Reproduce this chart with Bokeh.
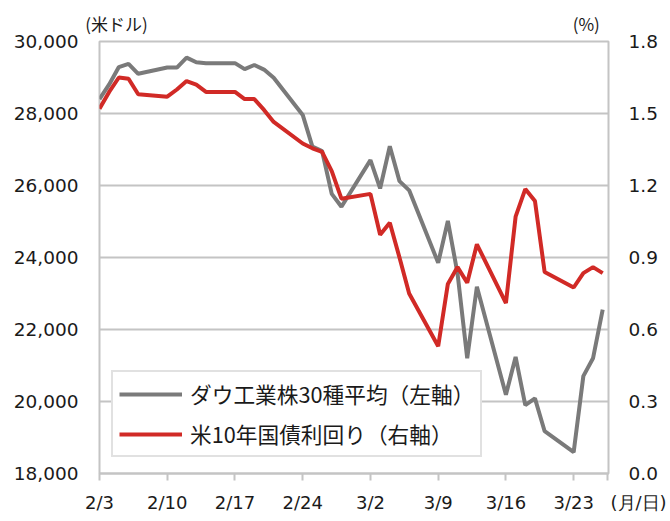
import pandas as pd
from bokeh.plotting import figure
from bokeh.models import (Range1d, LinearAxis, FixedTicker, NumeralTickFormatter,
                          Legend, LegendItem, ColumnDataSource)
from bokeh.embed import file_html
from bokeh.resources import INLINE

# ---- data ----
dates = ["2020-02-03", "2020-02-04", "2020-02-05", "2020-02-06", "2020-02-07",
         "2020-02-10", "2020-02-11", "2020-02-12", "2020-02-13", "2020-02-14",
         "2020-02-17", "2020-02-18", "2020-02-19", "2020-02-20", "2020-02-21",
         "2020-02-24", "2020-02-25", "2020-02-26", "2020-02-27", "2020-02-28",
         "2020-03-02", "2020-03-03", "2020-03-04", "2020-03-05", "2020-03-06",
         "2020-03-09", "2020-03-10", "2020-03-11", "2020-03-12", "2020-03-13",
         "2020-03-16", "2020-03-17", "2020-03-18", "2020-03-19", "2020-03-20",
         "2020-03-23", "2020-03-24", "2020-03-25", "2020-03-26"]
dow = [28399.81, 28807.63, 29290.85, 29379.77, 29102.51,
       29276.82, 29276.34, 29551.42, 29423.31, 29398.08,
       29398.08, 29232.19, 29348.03, 29219.98, 28992.41,
       27960.80, 27081.36, 26957.59, 25766.64, 25409.36,
       26703.32, 25917.41, 27090.86, 26121.28, 25864.78,
       23851.02, 25018.16, 23553.22, 21200.62, 23185.62,
       20188.52, 21237.38, 19898.92, 20087.19, 19173.98,
       18591.93, 20704.91, 21200.55, 22552.17]
yield10 = [1.52, 1.59, 1.65, 1.645, 1.58,
           1.57, 1.60, 1.635, 1.62, 1.59,
           1.59, 1.56, 1.56, 1.515, 1.465,
           1.375, 1.355, 1.34, 1.26, 1.145,
           1.165, 0.995, 1.045, 0.90, 0.75,
           0.53, 0.79, 0.86, 0.795, 0.955,
           0.71, 1.07, 1.185, 1.135, 0.84,
           0.775, 0.835, 0.86, 0.835]
tick_dates = ["2020-02-03", "2020-02-10", "2020-02-17", "2020-02-24",
              "2020-03-02", "2020-03-09", "2020-03-16", "2020-03-23"]
tick_labels = ["2/3", "2/10", "2/17", "2/24", "3/2", "3/9", "3/16", "3/23"]
left_ticks = [18000, 20000, 22000, 24000, 26000, 28000, 30000]
right_ticks = [0.0, 0.3, 0.6, 0.9, 1.2, 1.5, 1.8]
series_names = ["ダウ工業株30種平均（左軸）", "米10年国債利回り（右軸）"]
unit_left, unit_right, unit_x = "(米ドル)", "(%)", "(月/日)"

origin = pd.Timestamp(dates[0])
xdays = [(pd.Timestamp(d) - origin).days for d in dates]
xticks = [(pd.Timestamp(d) - origin).days for d in tick_dates]

src = ColumnDataSource(dict(x=xdays, dow=dow, y10=yield10))

TICK_FONT = "DejaVu Sans"
CJK = "Noto Sans CJK JP"
GRID = "#c4c4c4"
TXT = "#1a1a1a"

W, H = 668, 520
XEND = 52.6
p = figure(width=W, height=H, output_backend="svg", toolbar_location=None,
           x_range=Range1d(0, XEND), y_range=Range1d(18000, 30000),
           min_border_left=99, min_border_right=W - 608, min_border_top=41,
           min_border_bottom=H - 473)
p.extra_y_ranges = {"pct": Range1d(0.0, 1.8)}

p.outline_line_color = GRID
p.outline_line_width = 2
p.background_fill_color = "white"
p.border_fill_color = "white"

# x axis; the unit caption sits at the right end (pushed right by leading blank space)
ux = XEND - 0.15
xa = p.xaxis[0]
xa.ticker = FixedTicker(ticks=xticks + [ux])
overrides = {t: l for t, l in zip(xticks, tick_labels)}
overrides[ux] = "\u3000\u3000\u3000\u2002" + unit_x
xa.major_label_overrides = overrides
xa.axis_line_color = GRID
xa.axis_line_width = 2
xa.major_tick_line_color = GRID
xa.major_tick_line_width = 2
xa.major_tick_out = 7
xa.major_tick_in = 0
xa.minor_tick_line_color = None
xa.major_label_text_font = TICK_FONT
xa.major_label_text_font_size = "18px"
xa.major_label_text_color = TXT
xa.major_label_standoff = 11

# left y axis
ya = p.yaxis[0]
ya.ticker = FixedTicker(ticks=left_ticks)
ya.formatter = NumeralTickFormatter(format="0,0")
ya.axis_line_color = None
ya.major_tick_line_color = None
ya.minor_tick_line_color = None
ya.major_label_text_font = TICK_FONT
ya.major_label_text_font_size = "18.5px"
ya.major_label_text_color = TXT
ya.major_label_standoff = 15

# right y axis
ra = LinearAxis(y_range_name="pct", ticker=FixedTicker(ticks=right_ticks),
                formatter=NumeralTickFormatter(format="0.0"))
ra.axis_line_color = None
ra.major_tick_line_color = None
ra.minor_tick_line_color = None
ra.major_label_text_font = TICK_FONT
ra.major_label_text_font_size = "18.5px"
ra.major_label_text_color = TXT
ra.major_label_standoff = 14
p.add_layout(ra, "right")

# unit captions above the frame, drawn as labels of a bare top axis
unit_pos = [1.75, 50.3]
ta = LinearAxis(ticker=FixedTicker(ticks=unit_pos),
                major_label_overrides={unit_pos[0]: unit_left, unit_pos[1]: unit_right})
ta.axis_line_color = None
ta.major_tick_line_color = None
ta.minor_tick_line_color = None
ta.major_label_text_font = CJK
ta.major_label_text_font_size = "17px"
ta.major_label_text_color = TXT
ta.major_label_standoff = 0
p.add_layout(ta, "above")

p.xgrid.grid_line_color = None
p.ygrid.ticker = FixedTicker(ticks=left_ticks)
p.ygrid.grid_line_color = GRID
p.ygrid.grid_line_width = 2

r_dow = p.line("x", "dow", source=src, line_color="#7a7a7a", line_width=4)
r_y10 = p.line("x", "y10", source=src, y_range_name="pct",
               line_color="#d12a26", line_width=4)

legend = Legend(items=[LegendItem(label=series_names[0], renderers=[r_dow]),
                       LegendItem(label=series_names[1], renderers=[r_y10])],
                location=(12, 16), orientation="vertical")
legend.label_text_font = CJK
legend.label_text_font_size = "21.7px"
legend.label_text_color = TXT
legend.glyph_width = 63
legend.glyph_height = 18
legend.label_height = 18
legend.label_standoff = 8
legend.spacing = 9
legend.padding = 6
legend.margin = 0
legend.border_line_color = GRID
legend.border_line_width = 2
legend.background_fill_color = "white"
legend.background_fill_alpha = 1.0
p.add_layout(legend, "center")

open("out.html", "w").write(file_html(p, INLINE))
